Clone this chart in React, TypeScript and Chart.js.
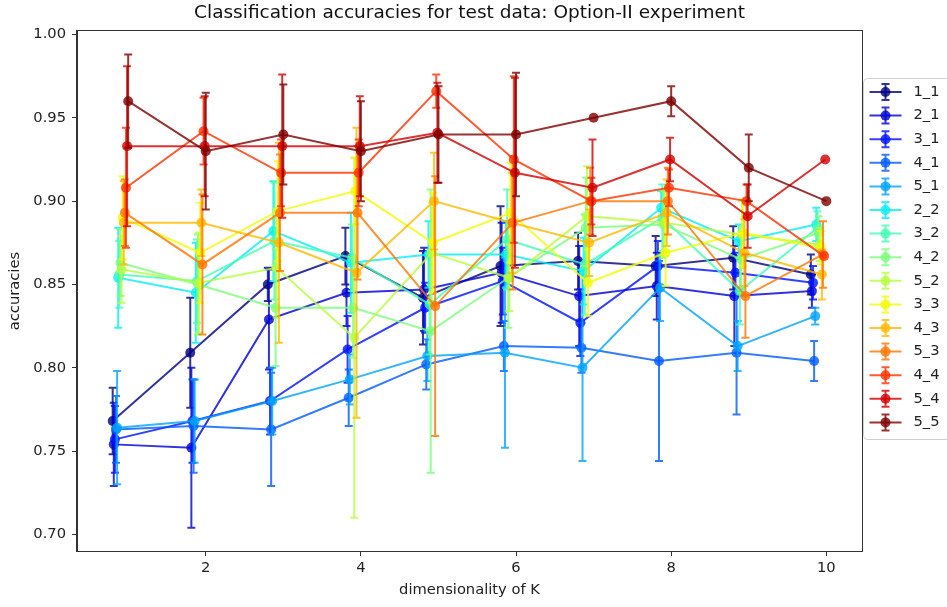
import React, { useEffect, useRef } from 'react';
import { Chart, registerables } from 'chart.js';

Chart.register(...registerables);

// ---------- data ----------
const kValues = [1, 2, 3, 4, 5, 6, 7, 8, 9, 10];
const seriesLabels = ['1_1', '2_1', '3_1', '4_1', '5_1', '2_2', '3_2', '4_2', '5_2', '3_3', '4_3', '5_3', '4_4', '5_4', '5_5'];

const acc_1_1 = [0.768, 0.809, 0.850, 0.867, 0.842, 0.861, 0.864, 0.861, 0.866, 0.856];
const acc_2_1 = [0.754, 0.752, 0.829, 0.845, 0.847, 0.857, 0.843, 0.849, 0.843, 0.846];
const acc_3_1 = [0.757, 0.768, 0.780, 0.811, 0.836, 0.852, 0.827, 0.861, 0.857, 0.851];
const acc_4_1 = [0.763, 0.765, 0.763, 0.782, 0.802, 0.813, 0.812, 0.804, 0.809, 0.804];
const acc_5_1 = [0.764, 0.768, 0.780, 0.793, 0.807, 0.809, 0.800, 0.848, 0.813, 0.831];
const acc_2_2 = [0.854, 0.845, 0.882, 0.863, 0.868, 0.868, 0.858, 0.896, 0.876, 0.886];
const acc_3_2 = [0.856, 0.852, 0.876, 0.866, 0.838, 0.877, 0.862, 0.890, 0.846, 0.884];
const acc_4_2 = [0.863, 0.850, 0.836, 0.836, 0.822, 0.854, 0.884, 0.886, 0.865, 0.881];
const acc_5_2 = [0.859, 0.851, 0.860, 0.818, 0.869, 0.854, 0.891, 0.887, 0.880, 0.874];
const acc_3_3 = [0.890, 0.869, 0.894, 0.906, 0.875, 0.893, 0.851, 0.869, 0.881, 0.872];
const acc_4_3 = [0.887, 0.887, 0.875, 0.857, 0.900, 0.887, 0.875, 0.893, 0.869, 0.856];
const acc_5_3 = [0.893, 0.862, 0.893, 0.893, 0.837, 0.887, 0.900, 0.900, 0.843, 0.868];
const acc_4_4 = [0.908, 0.942, 0.917, 0.917, 0.966, 0.925, 0.900, 0.908, 0.900, 0.867];
const acc_5_4 = [0.933, 0.933, 0.933, 0.933, 0.941, 0.917, 0.908, 0.925, 0.891, 0.925];
const acc_5_5 = [0.960, 0.930, 0.940, 0.930, 0.940, 0.940, 0.950, 0.960, 0.920, 0.900];

const err_1_1 = [0.020, 0.033, 0.010, 0.017, 0.028, 0.036, 0.017, 0.018, 0.019, 0.012];
const err_2_1 = [0.025, 0.048, 0.030, 0.020, 0.025, 0.030, 0.030, 0.020, 0.030, 0.010];
const err_3_1 = [0.020, 0.025, 0.020, 0.020, 0.015, 0.020, 0.020, 0.015, 0.012, 0.010];
const err_4_1 = [0.020, 0.028, 0.034, 0.017, 0.015, 0.015, 0.015, 0.060, 0.037, 0.012];
const err_5_1 = [0.034, 0.025, 0.020, 0.015, 0.015, 0.057, 0.056, 0.020, 0.015, 0.005];
const err_2_2 = [0.030, 0.030, 0.030, 0.030, 0.020, 0.020, 0.020, 0.010, 0.010, 0.010];
const err_3_2 = [0.020, 0.025, 0.035, 0.020, 0.030, 0.030, 0.030, 0.020, 0.020, 0.010];
const err_4_2 = [0.020, 0.030, 0.035, 0.030, 0.085, 0.030, 0.030, 0.020, 0.020, 0.010];
const err_5_2 = [0.020, 0.030, 0.030, 0.108, 0.030, 0.020, 0.030, 0.020, 0.020, 0.010];
const err_3_3 = [0.025, 0.030, 0.030, 0.020, 0.030, 0.030, 0.020, 0.020, 0.020, 0.010];
const err_4_3 = [0.025, 0.020, 0.060, 0.087, 0.029, 0.030, 0.020, 0.020, 0.020, 0.015];
const err_5_3 = [0.020, 0.042, 0.035, 0.040, 0.078, 0.040, 0.020, 0.020, 0.025, 0.020];
const err_4_4 = [0.036, 0.020, 0.020, 0.020, 0.010, 0.050, 0.014, 0.011, 0.010, 0.000];
const err_5_4 = [0.048, 0.030, 0.043, 0.030, 0.030, 0.057, 0.029, 0.013, 0.019, 0.000];
const err_5_5 = [0.028, 0.035, 0.030, 0.030, 0.029, 0.037, 0.000, 0.009, 0.020, 0.000];

const accValues = [acc_1_1, acc_2_1, acc_3_1, acc_4_1, acc_5_1, acc_2_2, acc_3_2, acc_4_2, acc_5_2, acc_3_3, acc_4_3, acc_5_3, acc_4_4, acc_5_4, acc_5_5];
const errValues = [err_1_1, err_2_1, err_3_1, err_4_1, err_5_1, err_2_2, err_3_2, err_4_2, err_5_2, err_3_3, err_4_3, err_5_3, err_4_4, err_5_4, err_5_5];

const xTicks = [2, 4, 6, 8, 10];
const yTicks = [0.70, 0.75, 0.80, 0.85, 0.90, 0.95, 1.00];

const titleText = 'Classification accuracies for test data: Option-II experiment';
const xTitle = 'dimensionality of K';
const yTitle = 'accuracies';

// ---------- style ----------
const jetColors = [
  [0, 0, 128], [0, 0, 210], [0, 18, 255], [0, 91, 255], [0, 164, 255],
  [6, 237, 241], [65, 255, 182], [123, 255, 123], [182, 255, 65], [241, 252, 6],
  [255, 185, 0], [255, 117, 0], [255, 50, 0], [210, 0, 0], [128, 0, 0],
];
const ALPHA = 0.8;
const rgba = (c: number[]) => `rgba(${c[0]},${c[1]},${c[2]},${ALPHA})`;
const FONT = "'DejaVu Sans', sans-serif";
const jitter = (i: number) => -0.2 + (i * 0.2) / 14;

const errorBarPlugin = {
  id: 'errorBars',
  beforeDatasetDraw(chart: any, args: any) {
    const ds = chart.data.datasets[args.index];
    const errs: number[] = ds.errors || [];
    const xs = chart.scales.x;
    const ys = chart.scales.y;
    const ctx = chart.ctx;
    ctx.save();
    ctx.strokeStyle = ds.borderColor;
    ctx.lineWidth = 2;
    ds.data.forEach((p: any, j: number) => {
      const e = errs[j];
      if (!e) return;
      const px = xs.getPixelForValue(p.x);
      const y1 = ys.getPixelForValue(p.y - e);
      const y2 = ys.getPixelForValue(p.y + e);
      ctx.beginPath();
      ctx.moveTo(px, y1);
      ctx.lineTo(px, y2);
      ctx.moveTo(px - 4, y1);
      ctx.lineTo(px + 4, y1);
      ctx.moveTo(px - 4, y2);
      ctx.lineTo(px + 4, y2);
      ctx.stroke();
    });
    ctx.restore();
  },
};

const framePlugin = {
  id: 'frameLegend',
  afterDraw(chart: any) {
    const ctx = chart.ctx;
    const a = chart.chartArea;
    ctx.save();
    ctx.strokeStyle = '#333';
    ctx.lineWidth = 1;
    ctx.strokeRect(Math.round(a.left) - 0.5, Math.round(a.top) - 0.5, Math.round(a.right - a.left) + 1, Math.round(a.bottom - a.top) + 1);

    // legend
    const lx = a.right + 1.5;
    const ly = 78.5;
    const lw = 100;
    const lh = 361;
    const r = 4;
    ctx.beginPath();
    ctx.moveTo(lx + r, ly);
    ctx.lineTo(lx + lw - r, ly);
    ctx.arcTo(lx + lw, ly, lx + lw, ly + r, r);
    ctx.lineTo(lx + lw, ly + lh - r);
    ctx.arcTo(lx + lw, ly + lh, lx + lw - r, ly + lh, r);
    ctx.lineTo(lx + r, ly + lh);
    ctx.arcTo(lx, ly + lh, lx, ly + lh - r, r);
    ctx.lineTo(lx, ly + r);
    ctx.arcTo(lx, ly, lx + r, ly, r);
    ctx.closePath();
    ctx.fillStyle = 'rgba(255,255,255,0.8)';
    ctx.fill();
    ctx.strokeStyle = '#d0d0d0';
    ctx.stroke();

    chart.data.datasets.forEach((ds: any, i: number) => {
      const cy = 92 + i * 23.6;
      const hx0 = lx + 6;
      const hx1 = lx + 38;
      const cx = (hx0 + hx1) / 2;
      ctx.strokeStyle = ds.borderColor;
      ctx.lineWidth = 2;
      ctx.beginPath();
      ctx.moveTo(hx0, cy);
      ctx.lineTo(hx1, cy);
      ctx.moveTo(cx, cy - 8);
      ctx.lineTo(cx, cy + 8);
      ctx.moveTo(cx - 4, cy - 8);
      ctx.lineTo(cx + 4, cy - 8);
      ctx.moveTo(cx - 4, cy + 8);
      ctx.lineTo(cx + 4, cy + 8);
      ctx.stroke();
      ctx.fillStyle = ds.borderColor;
      ctx.beginPath();
      ctx.arc(cx, cy, 5, 0, Math.PI * 2);
      ctx.fill();
      ctx.fillStyle = '#222';
      ctx.font = `14.7px ${FONT}`;
      ctx.textAlign = 'left';
      ctx.textBaseline = 'middle';
      ctx.fillText(ds.label, lx + 50, cy);
    });
    ctx.restore();
  },
};

export default function App() {
  const ref = useRef<HTMLCanvasElement>(null);

  useEffect(() => {
    if (!ref.current) return;
    const datasets = seriesLabels.map((label, i) => {
      const color = rgba(jetColors[i]);
      return {
        label,
        data: kValues.map((k, j) => ({ x: k + jitter(i), y: accValues[i][j] })),
        errors: errValues[i],
        borderColor: color,
        backgroundColor: color,
        pointBackgroundColor: color,
        pointBorderColor: color,
        pointBorderWidth: 0,
        pointRadius: 5,
        borderWidth: 2,
        showLine: true,
        fill: false,
        tension: 0,
        order: seriesLabels.length - 1 - i,
      };
    });

    const chart = new Chart(ref.current, {
      type: 'scatter',
      data: { datasets: datasets as any },
      plugins: [errorBarPlugin, framePlugin],
      options: {
        responsive: false,
        animation: false,
        events: [],
        layout: { padding: { top: 0, right: 85, bottom: 0, left: 0 } },
        plugins: {
          legend: { display: false },
          tooltip: { enabled: false },
          title: {
            display: true,
            text: titleText,
            fullSize: false,
            color: '#111',
            font: { family: FONT, size: 18.5, weight: 'normal' },
            padding: { top: 2, bottom: 7 },
          },
        },
        scales: {
          x: {
            type: 'linear',
            min: 0.34,
            max: 10.46,
            afterBuildTicks: (scale: any) => {
              scale.ticks = xTicks.map((v) => ({ value: v }));
            },
            afterFit: (scale: any) => {
              scale.height = 56;
            },
            ticks: {
              color: '#222',
              font: { family: FONT, size: 14.7 },
              padding: 3,
              maxRotation: 0,
              callback: (v: any) => String(v),
            },
            grid: { display: true, drawOnChartArea: false, drawTicks: true, tickLength: 5, color: '#333' },
            border: { display: true, color: '#333' },
            title: { display: true, text: xTitle, color: '#222', font: { family: FONT, size: 14.7 }, padding: { top: 0, bottom: 8 } },
          },
          y: {
            type: 'linear',
            min: 0.69,
            max: 1.002,
            afterBuildTicks: (scale: any) => {
              scale.ticks = yTicks.map((v) => ({ value: v }));
            },
            afterFit: (scale: any) => {
              scale.width = 77;
            },
            ticks: {
              color: '#222',
              font: { family: FONT, size: 14.7 },
              padding: 6,
              callback: (v: any) => Number(v).toFixed(2),
            },
            grid: { display: true, drawOnChartArea: false, drawTicks: true, tickLength: 5, color: '#333' },
            border: { display: true, color: '#333' },
            title: { display: true, text: yTitle, color: '#222', font: { family: FONT, size: 14.7 }, padding: { top: 6, bottom: 0 } },
          },
        },
      } as any,
    });
    return () => chart.destroy();
  }, []);

  return (
    <div style={{ position: 'absolute', left: 0, top: 0, width: 947, height: 607, background: '#fff' }}>
      <canvas ref={ref} width={947} height={607} style={{ width: 947, height: 607, display: 'block' }} />
    </div>
  );
}
